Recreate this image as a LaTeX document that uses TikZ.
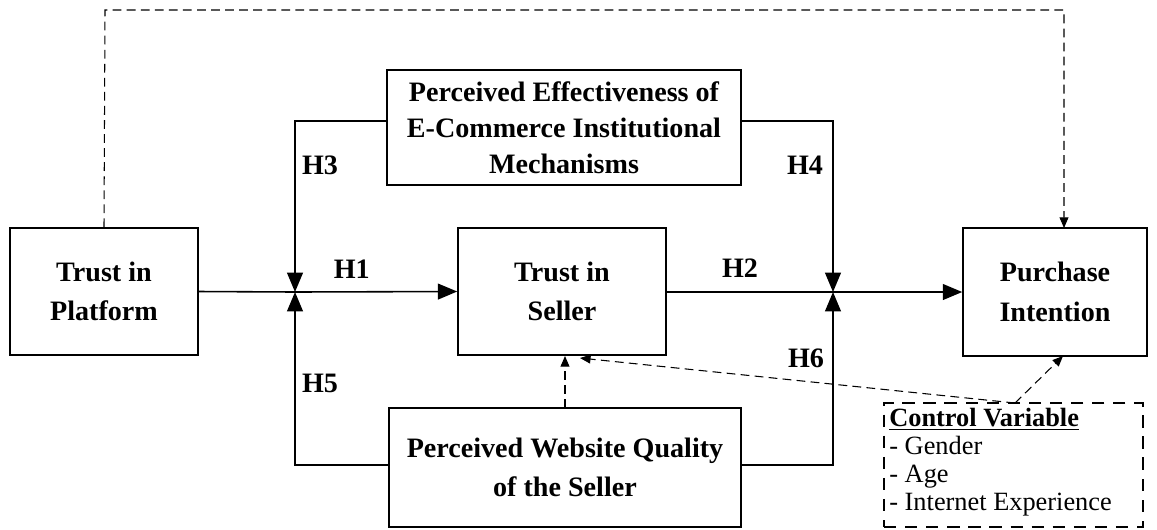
\documentclass[tikz,border=0pt]{standalone}
\usepackage{fontspec}
\setmainfont{Liberation Serif}
\usetikzlibrary{arrows.meta}
\tikzset{
  box/.style={draw,line width=0.9pt,align=center,font=\fontsize{16}{20.5}\selectfont\bfseries,inner sep=0pt},
  hyp/.style={font=\fontsize{16}{18}\selectfont\bfseries},
  link/.style={line width=0.9pt,-{Triangle[length=11pt,width=9pt]}},
  ctrl/.style={line width=0.6pt,dash pattern=on 5pt off 3pt,-{Triangle[length=6pt,width=5pt]}}
}
\begin{document}
\begin{tikzpicture}[x=0.02cm,y=-0.02cm]
\useasboundingbox (0,0) rectangle (1157,529);
% constructs
\node[box,minimum width=188*0.02cm,minimum height=127*0.02cm,font=\fontsize{16}{22.5}\selectfont\bfseries] (tp) at (104,291.5) {Trust in\\Platform};
\node[box,minimum width=208*0.02cm,minimum height=127*0.02cm,font=\fontsize{16}{22.5}\selectfont\bfseries] (ts) at (562,291.5) {Trust in\\Seller};
\node[box,minimum width=184*0.02cm,minimum height=128*0.02cm,font=\fontsize{16}{22.5}\selectfont\bfseries] (pi) at (1055,292) {Purchase\\Intention};
\node[box,minimum width=354*0.02cm,minimum height=115*0.02cm] (pe) at (564,127.5) {Perceived Effectiveness of\\E-Commerce Institutional\\Mechanisms};
\node[box,minimum width=352*0.02cm,minimum height=119*0.02cm,font=\fontsize{16}{22.5}\selectfont\bfseries] (pw) at (565,467.5) {Perceived Website Quality\\of the Seller};
\node[draw,dashed,line width=1.1pt,dash pattern=on 7pt off 5pt,minimum width=259*0.02cm,minimum height=124*0.02cm,inner sep=0pt] (cv) at (1013.5,465) {};
\node[anchor=north west,align=left,inner sep=0pt,font=\fontsize{15}{16}\selectfont] (cvt) at (889,408)
  {\textbf{\underline{Control Variable}}\\- Gender\\- Age\\- Internet Experience};
% junctions
\coordinate (j1) at (295,292);
\coordinate (j2) at (833,292);
% main paths
\draw[line width=0.9pt] (tp.east) -- (j1);
\draw[link] (j1) -- node[hyp,above=4pt,pos=0.35] {H1} (ts.west);
\draw[line width=0.9pt] (ts.east |- j2) -- (j2);
\draw[link] (j2) -- (pi.west |- j2);
\node[hyp] (h2) at (740,268) {H2};
% moderators
\draw[link] (pe.west |- 0,121) -| (j1);
\draw[link] (pe.east |- 0,121) -| (j2);
\draw[link] (pw.west |- 0,465) -| (j1);
\draw[link] (pw.east |- 0,465) -| (j2);
\node[hyp] (h3) at (320,165) {H3};
\node[hyp] (h4) at (805,165) {H4};
\node[hyp] (h5) at (320,383) {H5};
\node[hyp] (h6) at (806,358) {H6};
% direct effect and controls
\draw[ctrl] (tp.north) -- (105,10) -- (1064,10) -- (1064,228);
\draw[ctrl] (565,408) -- (565,356);
\coordinate (cvtop) at (1015,403);
\draw[ctrl] (cvtop) -- (580,358);
\draw[ctrl] (cvtop) -- (1063,356);
\end{tikzpicture}
\end{document}
